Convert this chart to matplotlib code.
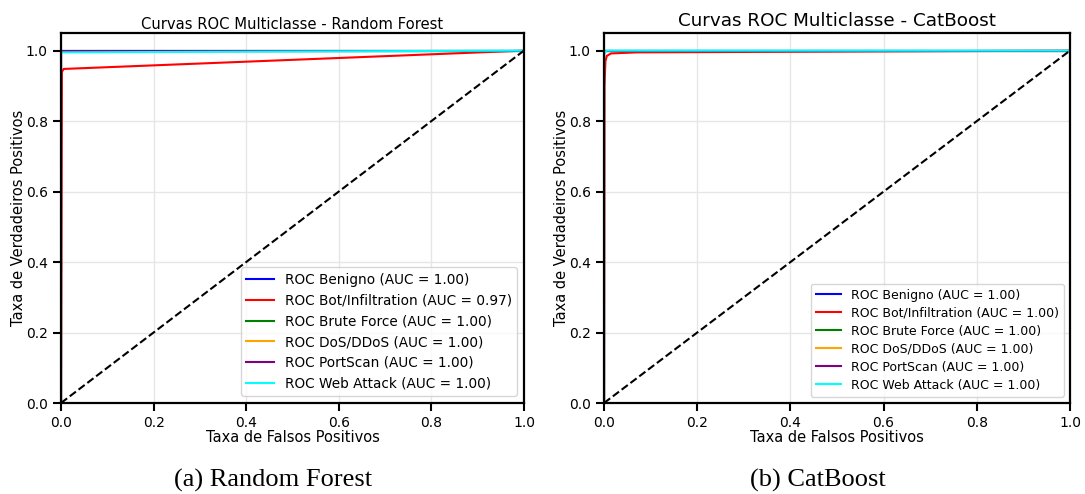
import matplotlib
matplotlib.use("Agg")
import matplotlib.pyplot as plt

classes = ["Benigno", "Bot/Infiltration", "Brute Force", "DoS/DDoS", "PortScan", "Web Attack"]
colors = ["blue", "red", "green", "orange", "purple", "cyan"]

# Random Forest ROC points (FPR, TPR) per class
rf_fpr = [
    [0.0, 0.0, 1.0],
    [0.0, 0.002, 0.006, 1.0],
    [0.0, 0.0, 1.0],
    [0.0, 0.0, 1.0],
    [0.0, 0.0, 1.0],
    [0.0, 0.0, 1.0],
]
rf_tpr = [
    [0.0, 1.0, 1.0],
    [0.0, 0.94, 0.948, 1.0],
    [0.0, 1.0, 1.0],
    [0.0, 1.0, 1.0],
    [0.0, 1.0, 1.0],
    [0.0, 0.995, 1.0],
]
rf_auc = [1.00, 0.97, 1.00, 1.00, 1.00, 1.00]

# CatBoost ROC points
cb_fpr = [
    [0.0, 0.0, 1.0],
    [0.0, 0.001, 0.003, 0.006, 0.015, 0.07, 1.0],
    [0.0, 0.0, 1.0],
    [0.0, 0.0, 1.0],
    [0.0, 0.0, 1.0],
    [0.0, 0.0, 0.005, 1.0],
]
cb_tpr = [
    [0.0, 1.0, 1.0],
    [0.0, 0.90, 0.97, 0.985, 0.992, 0.995, 1.0],
    [0.0, 1.0, 1.0],
    [0.0, 1.0, 1.0],
    [0.0, 1.0, 1.0],
    [0.0, 0.99, 1.0, 1.0],
]
cb_auc = [1.00, 1.00, 1.00, 1.00, 1.00, 1.00]

ticks = [0.0, 0.2, 0.4, 0.6, 0.8, 1.0]

fig = plt.figure(figsize=(10.85, 4.94), dpi=100)
ax1 = fig.add_axes([0.0562, 0.1842, 0.4267, 0.749])
ax2 = fig.add_axes([0.5567, 0.1842, 0.4295, 0.749])

def draw(ax, fprs, tprs, aucs, title, title_fs, title_pad, leg_fs, leg_sp, lab_fs, ylpad):
    for name, c, f, t, a in zip(classes, colors, fprs, tprs, aucs):
        ax.plot(f, t, color=c, lw=1.5, label=f"ROC {name} (AUC = {a:.2f})")
    ax.plot([0, 1], [0, 1], "k--", lw=1.5)
    ax.set_xlim(0, 1)
    ax.set_ylim(0, 1.05)
    ax.set_xticks(ticks)
    ax.set_yticks(ticks)
    ax.grid(True, color="#e6e6e6", lw=1.0)
    ax.set_axisbelow(True)
    for s in ax.spines.values():
        s.set_linewidth(1.6)
    ax.tick_params(length=6, width=1.5, labelsize=lab_fs)
    ax.set_title(title, fontsize=title_fs, pad=title_pad)
    ax.set_xlabel("Taxa de Falsos Positivos", fontsize=lab_fs + 0.5, labelpad=0)
    ax.set_ylabel("Taxa de Verdadeiros Positivos", fontsize=lab_fs + 0.5, labelpad=ylpad)
    ax.legend(loc="lower right", fontsize=leg_fs, framealpha=0.8, labelspacing=leg_sp)

draw(ax1, rf_fpr, rf_tpr, rf_auc, "Curvas ROC Multiclasse - Random Forest", 10.6, 3, 9.8, 0.5, 10, 0)
draw(ax2, cb_fpr, cb_tpr, cb_auc, "Curvas ROC Multiclasse - CatBoost", 13.2, 5, 9, 0.4, 10, 0)

fig.text(0.252, 0.028, "(a) Random Forest", fontsize=19, family="Liberation Serif", ha="center", va="center")
fig.text(0.754, 0.028, "(b) CatBoost", fontsize=19, family="Liberation Serif", ha="center", va="center")

fig.savefig("out.png", dpi=100)
